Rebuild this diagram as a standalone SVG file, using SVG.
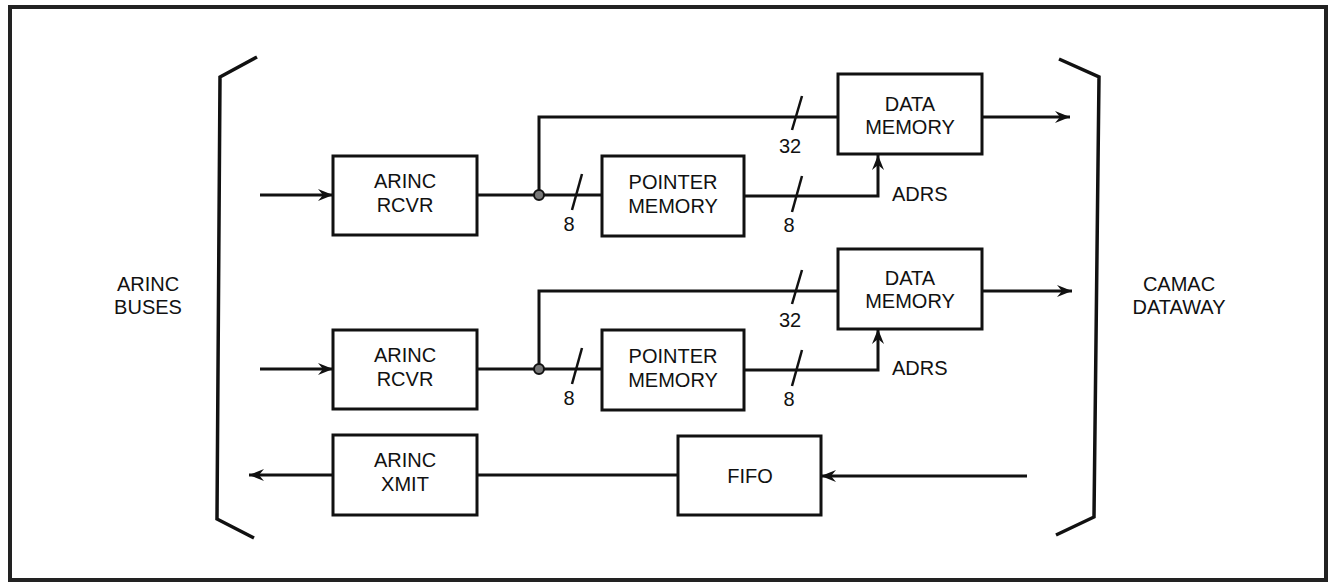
<svg xmlns="http://www.w3.org/2000/svg" width="1334" height="584" viewBox="0 0 1334 584">
<defs>
<style>
.box{fill:#fff;stroke:#111;stroke-width:3}
.ln{fill:none;stroke:#111;stroke-width:3}
.br{fill:none;stroke:#111;stroke-width:3.5;stroke-linejoin:miter}
.sl{stroke:#111;stroke-width:2.5}
.t{font-family:"Liberation Sans",Arial,sans-serif;font-size:20px;fill:#111;text-anchor:middle}
.ts{font-family:"Liberation Sans",Arial,sans-serif;font-size:20px;fill:#111}
.dot{fill:#777;stroke:#111;stroke-width:2}
</style>
<marker id="ah" viewBox="-16 -7 17 14" refX="0" refY="0" markerWidth="17" markerHeight="14" markerUnits="userSpaceOnUse" orient="auto">
<path d="M0,0 L-15,-6 L-10,0 L-15,6 Z" fill="#111"/>
</marker>
</defs>
<rect x="0" y="0" width="1334" height="584" fill="#fff"/>
<rect x="10" y="7" width="1316" height="573" fill="none" stroke="#222" stroke-width="4"/>
<g id="bracket-left"><polyline class="br" points="257,57 220,77 217,519 254,538"/></g>
<g id="bracket-right"><polyline class="br" points="1059,59 1099,77 1094,517 1056,535"/></g>
<g id="label-arinc-buses"><text class="t" x="148" y="291">ARINC</text><text class="t" x="148" y="314">BUSES</text></g>
<g id="label-camac"><text class="t" x="1179" y="291">CAMAC</text><text class="t" x="1179" y="314">DATAWAY</text></g>

<g id="connectors">
<line class="ln" x1="260" y1="195" x2="333" y2="195" marker-end="url(#ah)"/>
<line class="ln" x1="477" y1="195" x2="602" y2="195"/>
<polyline class="ln" points="539,195 539,117 838,117"/>
<line class="ln" x1="982" y1="117" x2="1070" y2="117" marker-end="url(#ah)"/>
<polyline class="ln" points="744,196 878,196 878,155" marker-end="url(#ah)"/>
<line class="sl" x1="582" y1="174" x2="572" y2="210"/>
<line class="sl" x1="802" y1="176" x2="792" y2="212"/>
<line class="sl" x1="802" y1="96" x2="792" y2="130"/>

<line class="ln" x1="260" y1="369" x2="333" y2="369" marker-end="url(#ah)"/>
<line class="ln" x1="477" y1="369" x2="602" y2="369"/>
<polyline class="ln" points="539,369 539,291 838,291"/>
<line class="ln" x1="982" y1="291" x2="1072" y2="291" marker-end="url(#ah)"/>
<polyline class="ln" points="744,370 878,370 878,329" marker-end="url(#ah)"/>
<line class="sl" x1="582" y1="348" x2="572" y2="384"/>
<line class="sl" x1="802" y1="350" x2="792" y2="386"/>
<line class="sl" x1="802" y1="270" x2="792" y2="304"/>

<line class="ln" x1="333" y1="475" x2="249" y2="475" marker-end="url(#ah)"/>
<line class="ln" x1="477" y1="475" x2="678" y2="475"/>
<line class="ln" x1="1027" y1="476" x2="821" y2="476" marker-end="url(#ah)"/>
<circle class="dot" cx="539" cy="195" r="5"/>
<circle class="dot" cx="539" cy="369" r="5"/>
<text class="t" x="569" y="231">8</text>
<text class="t" x="789" y="232">8</text>
<text class="t" x="790" y="153">32</text>
<text class="ts" x="892" y="201">ADRS</text>
<text class="t" x="569" y="405">8</text>
<text class="t" x="789" y="406">8</text>
<text class="t" x="790" y="327">32</text>
<text class="ts" x="892" y="375">ADRS</text>
</g>

<g id="rcvr1"><rect class="box" x="333" y="156" width="144" height="79"/><text class="t" x="405" y="188">ARINC</text><text class="t" x="405" y="212">RCVR</text></g>
<g id="pointer1"><rect class="box" x="602" y="156" width="142" height="80"/><text class="t" x="673" y="189">POINTER</text><text class="t" x="673" y="213">MEMORY</text></g>
<g id="data1"><rect class="box" x="838" y="74" width="144" height="80"/><text class="t" x="910" y="111">DATA</text><text class="t" x="910" y="134">MEMORY</text></g>

<g id="rcvr2"><rect class="box" x="333" y="330" width="144" height="79"/><text class="t" x="405" y="362">ARINC</text><text class="t" x="405" y="386">RCVR</text></g>
<g id="pointer2"><rect class="box" x="602" y="330" width="142" height="80"/><text class="t" x="673" y="363">POINTER</text><text class="t" x="673" y="387">MEMORY</text></g>
<g id="data2"><rect class="box" x="838" y="249" width="144" height="80"/><text class="t" x="910" y="285">DATA</text><text class="t" x="910" y="308">MEMORY</text></g>

<g id="xmit"><rect class="box" x="333" y="435" width="144" height="80"/><text class="t" x="405" y="467">ARINC</text><text class="t" x="405" y="491">XMIT</text></g>
<g id="fifo"><rect class="box" x="678" y="436" width="143" height="79"/><text class="t" x="750" y="483">FIFO</text></g>
</svg>
